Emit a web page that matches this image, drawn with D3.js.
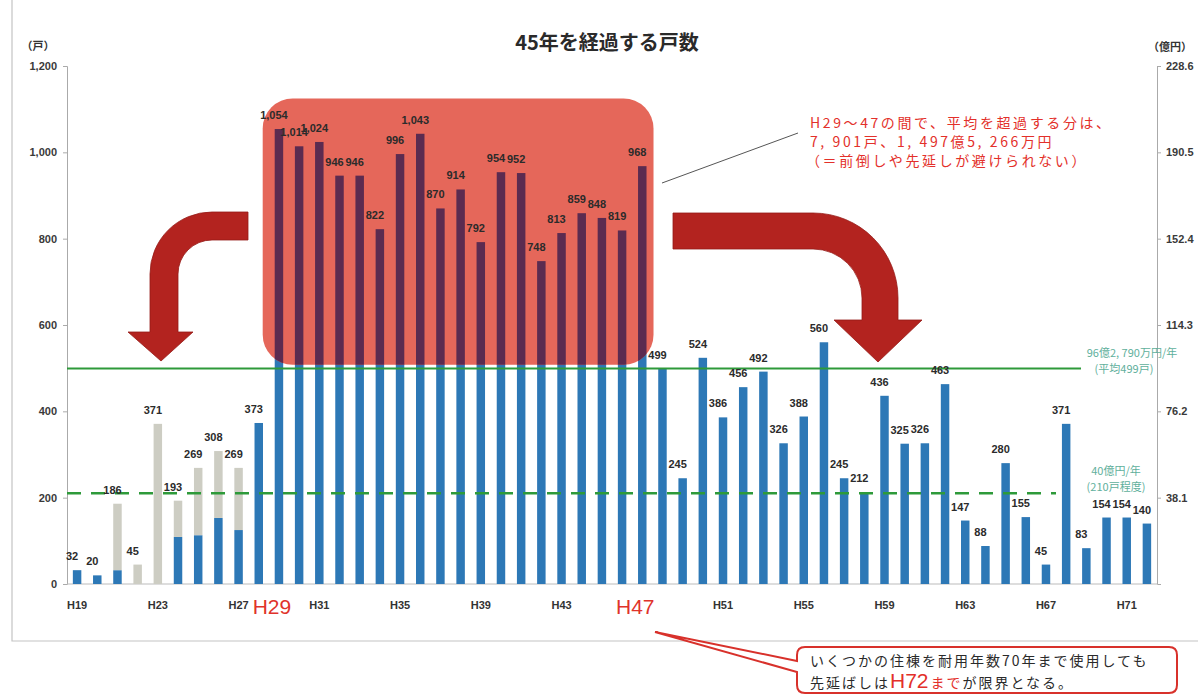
<!DOCTYPE html>
<html><head><meta charset="utf-8">
<script src="https://cdn.jsdelivr.net/npm/d3@7"></script>
<style>body{margin:0;background:#fff}svg{display:block}</style>
</head><body><svg id="c" width="1198" height="696"></svg>
<script>
const categories = ["H19","H20","H21","H22","H23","H24","H25","H26","H27","H28",
  "H29","H30","H31","H32","H33","H34","H35","H36","H37","H38","H39","H40","H41","H42","H43","H44","H45","H46","H47",
  "H48","H49","H50","H51","H52","H53","H54","H55","H56","H57","H58","H59","H60","H61","H62","H63","H64","H65","H66","H67","H68","H69","H70","H71","H72"];
const blueValues = [32,20,32,0,0,109,113,153,125,373,
  1054,1014,1024,946,946,822,996,1043,870,914,792,954,952,748,813,859,848,819,968,
  499,245,524,386,456,492,326,388,560,245,212,436,325,326,463,147,88,280,155,45,371,83,154,154,140];
const grayCategories = ["H21","H22","H23","H24","H25","H26","H27"];
const grayValues = [154,45,371,84,156,155,144];
const leftTicks = [0,200,400,600,800,1000,1200];
const rightTickValues = [200,400,600,800,1000,1200];
const rightTickLabels = ["38.1","76.2","114.3","152.4","190.5","228.6"];
const xTickLabels = ["H19","H23","H27","H29","H31","H35","H39","H43","H47","H51","H55","H59","H63","H67","H71"];
const redTicks = ["H29","H47"];
const averageValue = 499;
const lowerValue = 210;
const highlightFrom = "H29", highlightTo = "H47";

const svg = d3.select("#c");
const JP = "'Noto Sans CJK JP','Noto Sans',sans-serif";
const NUM = "'Liberation Sans',Arial,sans-serif";

const x = d3.scaleBand().domain(categories).range([67,1157]).paddingInner(0.58).paddingOuter(0.29);
const y = d3.scaleLinear().domain([0,1200]).range([584,66]);
const grayMap = new Map(grayCategories.map((c,i)=>[c,grayValues[i]]));
const data = categories.map((c,i)=>({cat:c, blue:blueValues[i], gray:grayMap.get(c)||0}));
data.forEach(d=>d.total=d.blue+d.gray);

svg.append("rect").attr("width",1198).attr("height",696).attr("fill","#fff");
// frame
svg.append("path").attr("d","M12,0 V641 H1198").attr("fill","none").attr("stroke","#c4c4c4").attr("stroke-width",1.2);

// title
svg.append("text").attr("x",607).attr("y",50).attr("text-anchor","middle")
  .attr("font-family",JP).attr("font-weight",700).attr("font-size",20).attr("fill","#2a2a2a").text("45年を経過する戸数");

// axes
const axL = svg.append("g").attr("transform","translate(67,0)")
  .call(d3.axisLeft(y).tickValues(leftTicks).tickFormat(d3.format(",")).tickSize(4).tickPadding(6));
const axR = svg.append("g").attr("transform","translate(1157,0)")
  .call(d3.axisRight(y).tickValues(rightTickValues).tickFormat((d,i)=>rightTickLabels[i]).tickSize(4).tickPadding(5));
[axL,axR].forEach(a=>{
  a.select(".domain").attr("stroke","#aaa");
  a.selectAll(".tick line").attr("stroke","#aaa");
  a.selectAll("text").attr("font-family",NUM).attr("font-weight",700).attr("font-size",11).attr("fill","#3a3a3a");
});
svg.append("text").attr("x",38).attr("y",50).attr("text-anchor","middle").attr("font-family",JP).attr("font-size",11).attr("font-weight",700).attr("fill","#333").text("（戸）");
svg.append("text").attr("x",1170).attr("y",51).attr("text-anchor","middle").attr("font-family",JP).attr("font-size",11).attr("font-weight",700).attr("fill","#333").text("（億円）");

// baseline
svg.append("line").attr("x1",67).attr("x2",1157).attr("y1",y(0)).attr("y2",y(0)).attr("stroke","#bbb");

// x tick labels
svg.append("g").selectAll("text").data(xTickLabels).join("text")
  .attr("x",d=>x(d)+x.bandwidth()/2 + (redTicks.includes(d)?-7:0))
  .attr("y",d=>redTicks.includes(d)?614:609)
  .attr("text-anchor","middle")
  .attr("font-family",d=>redTicks.includes(d)?"'Liberation Sans Narrow','Liberation Sans',sans-serif":NUM)
  .attr("font-weight",d=>redTicks.includes(d)?400:700)
  .attr("font-size",d=>redTicks.includes(d)?21:11)
  .attr("fill",d=>redTicks.includes(d)?"#e0332b":"#333")
  .text(d=>d);

// bars
const bars = svg.append("g");
bars.selectAll("rect.b").data(data.filter(d=>d.blue>0)).join("rect").attr("class","b")
  .attr("x",d=>x(d.cat)).attr("width",x.bandwidth())
  .attr("y",d=>y(d.blue)).attr("height",d=>y(0)-y(d.blue)).attr("fill","#2d78b6");
bars.selectAll("rect.g").data(data.filter(d=>d.gray>0)).join("rect").attr("class","g")
  .attr("x",d=>x(d.cat)).attr("width",x.bandwidth())
  .attr("y",d=>y(d.total)).attr("height",d=>y(d.blue)-y(d.total)).attr("fill","#cdcdc3");

// highlight box
const hx0 = x(highlightFrom)-12, hx1 = x(highlightTo)+x.bandwidth()+7;
const hy0 = y(1125), hy1 = y(508);
svg.append("defs").append("clipPath").attr("id","hl").append("rect")
  .attr("x",hx0).attr("y",hy0).attr("width",hx1-hx0).attr("height",hy1-hy0).attr("rx",30);
svg.append("rect").attr("x",hx0).attr("y",hy0).attr("width",hx1-hx0).attr("height",hy1-hy0).attr("rx",30)
  .attr("fill","#e5675a");
svg.append("g").attr("clip-path","url(#hl)").selectAll("rect").data(data.filter(d=>d.blue>0)).join("rect")
  .attr("x",d=>x(d.cat)).attr("width",x.bandwidth())
  .attr("y",d=>y(d.blue)).attr("height",d=>y(0)-y(d.blue)).attr("fill","#5b2b50");

// reference lines
svg.append("line").attr("x1",67).attr("x2",1081).attr("y1",y(averageValue)).attr("y2",y(averageValue))
  .attr("stroke","#2e9a3a").attr("stroke-width",2);
svg.append("line").attr("x1",67).attr("x2",1056).attr("y1",y(lowerValue)).attr("y2",y(lowerValue))
  .attr("stroke","#2e9a3a").attr("stroke-width",2.5).attr("stroke-dasharray","14,10");
const gcol = "#5fb09c";
svg.append("text").attr("x",1132).attr("y",y(averageValue)-12).attr("text-anchor","middle").attr("font-family",JP).attr("font-size",11).attr("fill",gcol).text("96億2, 790万円/年");
svg.append("text").attr("x",1124).attr("y",y(averageValue)+4).attr("text-anchor","middle").attr("font-family",JP).attr("font-size",11).attr("fill",gcol).text("(平均499戸)");
svg.append("text").attr("x",1116).attr("y",y(lowerValue)-18).attr("text-anchor","middle").attr("font-family",JP).attr("font-size",11).attr("fill",gcol).text("40億円/年");
svg.append("text").attr("x",1116).attr("y",y(lowerValue)-2).attr("text-anchor","middle").attr("font-family",JP).attr("font-size",11).attr("fill",gcol).text("(210戸程度)");

// value labels
svg.append("g").selectAll("text").data(data).join("text")
  .attr("x",d=>x(d.cat)+x.bandwidth()/2-5).attr("y",d=>y(d.total)-10)
  .attr("text-anchor","middle").attr("font-family",NUM).attr("font-weight",700).attr("font-size",11)
  .attr("fill","#2b2b2b").text(d=>d3.format(",")(d.total));

// arrows
const acol = "#b3231f";
svg.append("path").attr("d","M248,212 L212,212 A62,62 0 0 0 150,274 L150,332 L128,332 L161,361 L193,332 L178,332 L178,274 A34,34 0 0 1 212,240 L248,240 Z")
  .attr("fill",acol).attr("stroke","#961a17").attr("stroke-width",0.8);
svg.append("path").attr("d","M673,213 L813,213 A85,85 0 0 1 898,298 L898,320 L922,320 L878,362 L834,320 L862,320 L862,298 A49,49 0 0 0 813,249 L673,249 Z")
  .attr("fill",acol).attr("stroke","#961a17").attr("stroke-width",0.8);

// annotation
svg.append("line").attr("x1",662).attr("y1",183).attr("x2",798).attr("y2",133).attr("stroke","#555").attr("stroke-width",1);
const rcol = "#e3302a";
const ann = ["H29～47の間で、平均を超過する分は、","7, 901戸、1, 497億5, 266万円","（＝前倒しや先延しが避けられない）"];
svg.append("g").selectAll("text").data(ann).join("text")
  .attr("x",(d,i)=>i==2?806:810).attr("y",(d,i)=>128+i*19)
  .attr("font-family",JP).attr("font-size",14).attr("letter-spacing",2.6).attr("fill",rcol).text(d=>d);

// callout
svg.append("path").attr("d","M805,647 H1169 Q1177,647 1177,655 V685 Q1177,693 1169,693 H805 Q797,693 797,685 V672 L655,632 L797,661 V655 Q797,647 805,647 Z")
  .attr("fill","#fff").attr("stroke","#d8312b").attr("stroke-width",2);
svg.append("text").attr("x",810).attr("y",666).attr("font-family",JP).attr("font-size",14).attr("letter-spacing",2).attr("fill","#2a2a2a")
  .text("いくつかの住棟を耐用年数70年まで使用しても");
const t2 = svg.append("text").attr("x",810).attr("y",688).attr("font-family",JP).attr("font-size",14).attr("letter-spacing",2).attr("fill","#2a2a2a");
t2.append("tspan").text("先延ばしは");
t2.append("tspan").attr("fill",rcol).attr("font-family","'Liberation Sans Narrow','Liberation Sans',sans-serif").attr("font-size",21).attr("letter-spacing",0).text("H72");
t2.append("tspan").attr("fill",rcol).attr("dx",2).text("まで");
t2.append("tspan").text("が限界となる。");
</script></body></html>
